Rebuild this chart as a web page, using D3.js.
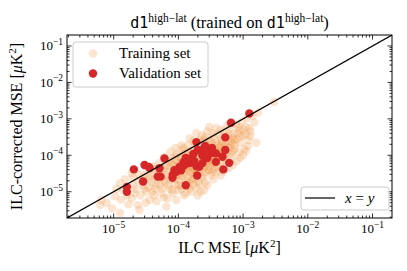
<!DOCTYPE html>
<html lang="en">
<head>
<meta charset="UTF-8">
<title>d1 high-lat ILC MSE</title>
<script src="https://d3js.org/d3.v7.min.js"></script>
<style>
  body { margin: 0; background: #fff; }
  svg { display: block; }
  text { font-family: "Liberation Serif", "DejaVu Serif", serif; fill: #000; }
  .mono { font-family: "DejaVu Sans Mono", "Liberation Mono", monospace; }
</style>
</head>
<body>
<div id="chart"></div>
<script>
// ILC MSE (x) vs ILC-corrected MSE (y), in muK^2
const trainSet = [
  [6.2e-6,4.3e-6],[7.8e-6,4.9e-6],[6.5e-6,6e-6],[9.5e-6,3.5e-6],[1.05e-5,7.5e-6],[1.25e-5,2.6e-6],
  [1.25e-5,1.7e-5],[1.4e-5,1.1e-5],[1.6e-5,8e-6],[1.9e-5,6.6e-6],[1.7e-5,4.5e-6],[1.9e-5,3.2e-5],
  [2.35e-5,4.3e-6],[2.5e-5,3.2e-6],[2.2e-5,1.2e-5],[2.6e-5,8e-6],[2.8e-5,1.5e-5],[3e-5,2.2e-5],
  [3.2e-5,1e-5],[3.5e-5,1.3e-5],[3.8e-5,2.8e-5],[2.4e-5,2e-5],[3.3e-5,3.6e-5],[3.6e-5,6e-6],
  [2.9e-5,2.6e-5],[3.9e-5,1.8e-5],[2.1e-5,9e-6],[3.1e-5,5e-6],[4.2e-5,8e-6],[4.5e-5,4.2e-5],
  [4.4e-5,1.2e-5],[4.8e-5,2.2e-5],[5e-5,3.2e-5],[5.2e-5,1.5e-5],[4.6e-5,5.5e-6],[5.5e-5,9e-6],
  [5.8e-5,2.6e-5],[6e-5,4.5e-5],[6.5e-5,3.9e-6],[6.2e-5,1.8e-5],[6.8e-5,6.5e-6],[7e-5,3.5e-5],
  [7.2e-5,1.2e-5],[7.5e-5,2.2e-5],[7.8e-5,6e-5],[8e-5,2.8e-5],[8.2e-5,9e-6],[8.5e-5,4e-5],
  [8.8e-5,1.6e-5],[9e-5,7.5e-5],[9.3e-5,5.9e-6],[9.5e-5,3e-5],[9.8e-5,5e-5],[1e-4,1.1e-5],
  [1.02e-4,2.1e-5],[1.05e-4,9e-5],[1.08e-4,3.6e-5],[1.1e-4,6.5e-5],[1.12e-4,1.5e-5],[1.15e-4,2.6e-5],
  [1.18e-4,4.5e-5],[1.2e-4,1.1e-4],[1.22e-4,8e-6],[1.25e-4,3.2e-5],[1.28e-4,5.5e-5],[1.3e-4,1.9e-5],
  [1.33e-4,8.5e-5],[1.36e-4,4e-5],[1.4e-4,2.5e-5],[1.42e-4,1.3e-4],[1.45e-4,6.5e-5],[1.48e-4,1.2e-5],
  [1.5e-4,3.5e-5],[1.55e-4,5e-5],[1.58e-4,1e-4],[1.6e-4,2.2e-5],[1.65e-4,7.5e-5],[1.68e-4,4.2e-5],
  [1.7e-4,1.6e-5],[1.75e-4,1.5e-4],[1.78e-4,3e-5],[1.8e-4,6e-5],[1.85e-4,9e-5],[1.9e-4,2.6e-5],
  [1.95e-4,4.6e-5],[2e-4,1.2e-4],[2.05e-4,1.9e-5],[2.1e-4,7e-5],[2.15e-4,3.6e-5],[2.2e-4,1.8e-4],
  [2.25e-4,5.5e-5],[2.3e-4,9.5e-5],[2.35e-4,2.8e-5],[2.4e-4,1.4e-4],[2.45e-4,4.5e-5],[2.5e-4,7.5e-5],
  [2.55e-4,2.2e-4],[2.6e-4,3.4e-5],[2.65e-4,1.1e-4],[2.7e-4,6e-5],[2.8e-4,1.6e-4],[2.85e-4,4e-5],
  [2.9e-4,8.5e-5],[3e-4,2.6e-4],[3.05e-4,5e-5],[3.1e-4,1.25e-4],[3.2e-4,7e-5],[3.3e-4,2e-4],
  [3.35e-4,3.5e-5],[3.4e-4,1e-4],[3.5e-4,3.2e-4],[3.6e-4,5.8e-5],[3.7e-4,1.5e-4],[3.8e-4,8e-5],
  [3.9e-4,2.4e-4],[4e-4,4.6e-5],[4.1e-4,1.2e-4],[4.2e-4,3.8e-4],[4.3e-4,9.5e-5],[4.4e-4,1.8e-4],
  [4.5e-4,6.5e-5],[4.6e-4,2.8e-4],[4.8e-4,1.4e-4],[5e-4,4.6e-4],[5.1e-4,8.5e-5],[5.3e-4,2.1e-4],
  [5.5e-4,1.1e-4],[5.7e-4,3.4e-4],[5.9e-4,1.6e-4],[6.2e-4,5.5e-4],[6.4e-4,2.5e-4],[6.6e-4,9e-5],
  [6.9e-4,1.3e-4],[7.2e-4,4e-4],[7.5e-4,1.9e-4],[7.8e-4,7e-4],[8e-4,2.8e-4],[8.5e-4,1.2e-4],
  [8.8e-4,5e-4],[9.2e-4,2.2e-4],[9.6e-4,8.5e-4],[1e-3,3.5e-4],[1.05e-3,1.5e-4],[1.1e-3,6e-4],
  [1.15e-3,1.05e-3],[1.2e-3,2.6e-4],[1.3e-3,4.5e-4],[1.4e-3,1.2e-3],[1.5e-3,8e-4],[1.7e-3,1.5e-3],
  [3e-3,2.9e-3],
  [1.5e-4,2.9e-4],[1.9e-4,4.1e-4],[3e-4,6e-4],[3.8e-4,5.6e-4],[5.7e-4,6.7e-4],[7.5e-5,1.25e-4],
  [9e-5,1.6e-4],[1.1e-4,1.9e-4],[1.1e-4,8e-5],[1.3e-4,1.1e-4],[1.6e-4,1.3e-4],[1.8e-4,1.1e-4],
  [2.2e-4,8.5e-5],[2.4e-4,6.5e-5],[2.7e-4,9e-5],[3e-4,1.6e-4],[3.2e-4,2.3e-4],[3.5e-4,1.3e-4],
  [4e-4,2e-4],[4.3e-4,1.6e-4],[4.7e-4,2.3e-4],[5.2e-4,1.8e-4],[6e-4,3.8e-4],[7e-4,3e-4],
  [8.2e-4,4e-4],[2.1e-4,2.6e-4],[2.6e-4,3.2e-4],[9e-5,9.5e-5],[7e-5,7e-5],[6e-5,9e-5],
  [5e-5,6e-5],[4e-5,5e-5],[1.4e-4,4.8e-5],[1.6e-4,3.3e-5],[2e-4,3e-5],[2.4e-4,2.4e-5],
  [3e-4,3.8e-5],[3.6e-4,4.2e-5],[4.5e-4,5e-5],[5.5e-4,7e-5],[6.5e-4,1.1e-4],[7.5e-4,1.5e-4],
  [1.3e-4,7e-5],[1.7e-4,5.3e-5],[2e-4,6.3e-5],[2.3e-4,1.15e-4],[2.9e-4,6.7e-5],[3.3e-4,9e-5],
  [3.8e-4,1e-4],[4.6e-4,1.1e-4],[1.05e-4,2.8e-5],[8.5e-5,5.2e-5],[1.15e-4,1.4e-4],[1.8e-4,2e-4],
  [2.5e-4,2.7e-4],[6.5e-5,2.9e-5],[5.5e-5,1.2e-5],[1.3e-4,9e-6],[2e-4,8e-6],[2.8e-4,1.5e-5],
  [3.5e-4,2.2e-5],[4.5e-4,2.8e-5],[6e-4,4.5e-5],[8e-4,7e-5],[1e-3,1e-4],[1.2e-3,1.8e-4],
  [1.6e-3,2.2e-4],[1.3e-3,3.3e-4],[1.9e-4,1.3e-5],[1.5e-4,1.8e-5],[1e-4,1.5e-5],[7e-5,1.5e-5],
  [2.5e-4,1.1e-5],
  [1.2e-4,4e-5],[1.35e-4,6e-5],[1.5e-4,7e-5],[1.65e-4,9.5e-5],[1.8e-4,4e-5],[2e-4,5e-5],
  [2.2e-4,6.5e-5],[2.4e-4,8.5e-5],[2.6e-4,5e-5],[2.8e-4,1.1e-4],[3.1e-4,8e-5],[3.4e-4,6e-5],
  [3.7e-4,1.2e-4],[4e-4,9e-5],[4.4e-4,1.35e-4],[4.9e-4,1e-4],[5.3e-4,1.3e-4],[5.8e-4,2.2e-4],
  [6.3e-4,1.6e-4],[6.8e-4,2.2e-4],[7.3e-4,2.6e-4],[9e-4,3.2e-4],[1.1e-3,3.8e-4],[1.25e-3,5.5e-4],
  [1e-3,5e-4],[8.5e-4,6e-4],
  [1.1e-4,1.2e-5],[1.4e-4,1.4e-5],[1.7e-4,2.2e-5],[2.1e-4,1.6e-5],[2.6e-4,1.8e-5],[3.2e-4,2.8e-5],
  [3.9e-4,3.4e-5],[5e-4,3.6e-5],[7e-4,5.5e-5],[9e-4,8.5e-5],[1.1e-3,1.3e-4],[2.2e-4,1e-5],
  [1.6e-4,1e-5],[8e-5,1.1e-5],[6e-5,7e-6],[4e-5,1e-5],
  [2e-5,2.5e-5],[2.5e-5,3e-5],[3.5e-5,2.2e-5],[4.2e-5,3e-5],[5.5e-5,4e-5],[6.5e-5,5.5e-5],
  [8e-5,8e-5],[9.5e-5,1.1e-4],[1.2e-4,1.6e-4],[1.4e-4,1.9e-4],[1.7e-4,2.5e-4],[2.3e-4,3.5e-4],
  [2.8e-4,4.5e-4],[3.4e-4,4e-4],[4.5e-4,5e-4],[1.3e-5,6e-6],[1.1e-5,1.2e-5],[1.5e-5,2.2e-5],
  [7.5e-5,4.6e-5],[1e-4,6e-5],[9e-5,2.2e-5],[6e-5,2e-5],[4.5e-5,1.6e-5],[3e-5,1.2e-5],[2e-5,1.5e-5]
];

const validSet = [
  [1.25e-3,1.4e-3],[6.5e-4,7.8e-4],[5.3e-4,3.1e-4],[1.9e-4,2.3e-4],[2.5e-4,1.6e-4],[2.8e-4,1.4e-4],
  [3.0e-4,1.2e-4],[2.35e-4,1.0e-4],[2.8e-4,8.4e-5],[3.2e-4,1.15e-4],[5.3e-4,1.4e-4],[3.8e-4,1.13e-4],
  [6.1e-5,8.2e-5],[1.7e-4,1.08e-4],[4.8e-4,9.1e-5],[6.1e-4,6.2e-5],[3.8e-4,6.6e-5],[1.38e-4,7.4e-5],
  [1.49e-4,6.1e-5],[1.25e-4,5.4e-5],[1.04e-4,4.75e-5],[1.1e-4,3.9e-5],[9.3e-5,3.5e-5],[8.7e-5,3.9e-5],
  [8.2e-5,2.9e-5],[2.35e-4,6.1e-5],[2.1e-4,4.8e-5],[1.9e-4,5.0e-5],[4.95e-4,4.1e-5],[3.0e-5,5.4e-5],
  [3.5e-5,4.8e-5],[3.6e-5,4.45e-5],[2.05e-5,4.1e-5],[5.1e-5,4.4e-5],[4.8e-5,2.6e-5],[5.3e-5,2.6e-5],
  [8.1e-5,2.4e-5],[1.95e-4,2.8e-5],[2.85e-5,1.9e-5],[1.3e-4,1.5e-5],[1.6e-5,1.35e-5],[1.6e-5,1.0e-5],
  [1.3e-4,8.4e-5],[1.6e-4,8.4e-5],[2.0e-4,1.4e-4],[2.6e-4,1.8e-4],[3.3e-4,1.6e-4],[1.2e-4,6.5e-5],
  [1.75e-4,7e-5],[2.6e-4,1.25e-4]
];

const axisDomain = [1.9e-6, 0.2];
const majorTicks = [1e-5, 1e-4, 1e-3, 1e-2, 1e-1];
const tickExps = ["\u22125", "\u22124", "\u22123", "\u22122", "\u22121"];

const W = 407, H = 271;
const margin = { top: 35, right: 15, bottom: 53, left: 67 };
const width = W - margin.left - margin.right;
const height = H - margin.top - margin.bottom;

const svg = d3.select("#chart").append("svg")
    .attr("width", W).attr("height", H);

const x = d3.scaleLog().domain(axisDomain).range([margin.left, margin.left + width]);
const y = d3.scaleLog().domain(axisDomain).range([margin.top + height, margin.top]);

svg.append("clipPath").attr("id", "plotclip")
  .append("rect")
    .attr("x", margin.left).attr("y", margin.top)
    .attr("width", width).attr("height", height);

const plot = svg.append("g").attr("clip-path", "url(#plotclip)");

// training points
plot.selectAll(".train")
  .data(trainSet)
  .enter().append("circle")
    .attr("class", "train")
    .attr("cx", d => x(d[0]))
    .attr("cy", d => y(d[1]))
    .attr("r", 4.2)
    .attr("fill", "#f0923f")
    .attr("fill-opacity", 0.24);

// validation points
plot.selectAll(".valid")
  .data(validSet)
  .enter().append("circle")
    .attr("class", "valid")
    .attr("cx", d => x(d[0]))
    .attr("cy", d => y(d[1]))
    .attr("r", 4.2)
    .attr("fill", "#d62728");

// x = y line
plot.append("line")
    .attr("x1", x(axisDomain[0])).attr("y1", y(axisDomain[0]))
    .attr("x2", x(axisDomain[1])).attr("y2", y(axisDomain[1]))
    .attr("stroke", "#000").attr("stroke-width", 1.2);

// ticks (inward, all four sides)
const minorTicks = [];
for (let k = -6; k <= -1; k++) {
  for (let m = 2; m <= 9; m++) {
    const v = m * Math.pow(10, k);
    if (v > axisDomain[0] && v < axisDomain[1]) minorTicks.push(v);
  }
}
const x0 = margin.left, x1 = margin.left + width;
const y0 = margin.top + height, y1 = margin.top;
const ticks = svg.append("g").attr("stroke", "#000").attr("stroke-width", 0.8);
function drawTicks(vals, len) {
  vals.forEach(v => {
    const px = x(v), py = y(v);
    ticks.append("line").attr("x1", px).attr("x2", px).attr("y1", y0).attr("y2", y0 - len);
    ticks.append("line").attr("x1", px).attr("x2", px).attr("y1", y1).attr("y2", y1 + len);
    ticks.append("line").attr("y1", py).attr("y2", py).attr("x1", x0).attr("x2", x0 + len);
    ticks.append("line").attr("y1", py).attr("y2", py).attr("x1", x1).attr("x2", x1 - len);
  });
}
drawTicks(majorTicks, 4.5);
drawTicks(minorTicks, 2.5);

// frame
svg.append("rect")
    .attr("x", x0).attr("y", y1).attr("width", width).attr("height", height)
    .attr("fill", "none").attr("stroke", "#000").attr("stroke-width", 1);

// tick labels
majorTicks.forEach((v, i) => {
  const tx = svg.append("text")
      .attr("x", x(v)).attr("y", y0 + 15)
      .attr("text-anchor", "middle").attr("font-size", 13);
  tx.append("tspan").text("10");
  tx.append("tspan").attr("dy", -5.5).attr("font-size", 9.5).text(tickExps[i]);

  const ty = svg.append("text")
      .attr("x", x0 - 4).attr("y", y(v) + 4.5)
      .attr("text-anchor", "end").attr("font-size", 13);
  ty.append("tspan").text("10");
  ty.append("tspan").attr("dy", -5.5).attr("font-size", 9.5).text(tickExps[i]);
});

// axis labels
const xl = svg.append("text")
    .attr("x", (x0 + x1) / 2).attr("y", 253)
    .attr("text-anchor", "middle").attr("font-size", 16);
xl.append("tspan").text("ILC MSE [");
xl.append("tspan").attr("font-style", "italic").text("\u03bc");
xl.append("tspan").text("K");
xl.append("tspan").attr("dy", -6).attr("font-size", 11).text("2");
xl.append("tspan").attr("dy", 6).text("]");

const yl = svg.append("text")
    .attr("transform", `translate(22,${(y0 + y1) / 2}) rotate(-90)`)
    .attr("text-anchor", "middle").attr("font-size", 16);
yl.append("tspan").text("ILC-corrected MSE [");
yl.append("tspan").attr("font-style", "italic").text("\u03bc");
yl.append("tspan").text("K");
yl.append("tspan").attr("dy", -6).attr("font-size", 11).text("2");
yl.append("tspan").attr("dy", 6).text("]");

// title
const title = svg.append("text")
    .attr("x", (x0 + x1) / 2).attr("y", 28)
    .attr("text-anchor", "middle").attr("font-size", 16.5);
title.append("tspan").attr("class", "mono").attr("font-size", 15).text("d1");
title.append("tspan").attr("dy", -6.5).attr("font-size", 11.5).text("high\u2212lat");
title.append("tspan").attr("dy", 6.5).text(" (trained on ");
title.append("tspan").attr("class", "mono").attr("font-size", 15).text("d1");
title.append("tspan").attr("dy", -6.5).attr("font-size", 11.5).text("high\u2212lat");
title.append("tspan").attr("dy", 6.5).text(")");

// legend: datasets
const leg1 = svg.append("g");
leg1.append("rect")
    .attr("x", 73).attr("y", 42).attr("width", 135).attr("height", 45).attr("rx", 3)
    .attr("fill", "#fff").attr("fill-opacity", 0.8)
    .attr("stroke", "#cccccc").attr("stroke-width", 1);
leg1.append("circle").attr("cx", 93).attr("cy", 53.5).attr("r", 4.2)
    .attr("fill", "#f0923f").attr("fill-opacity", 0.24);
leg1.append("circle").attr("cx", 93).attr("cy", 73.5).attr("r", 4.2)
    .attr("fill", "#d62728");
leg1.append("text").attr("x", 119).attr("y", 58).attr("font-size", 15).text("Training set");
leg1.append("text").attr("x", 119).attr("y", 78).attr("font-size", 15).text("Validation set");

// legend: x = y
const leg2 = svg.append("g");
leg2.append("rect")
    .attr("x", 301).attr("y", 187).attr("width", 88).attr("height", 23).attr("rx", 3)
    .attr("fill", "#fff").attr("fill-opacity", 0.8)
    .attr("stroke", "#cccccc").attr("stroke-width", 1);
leg2.append("line").attr("x1", 305).attr("x2", 335).attr("y1", 198).attr("y2", 198)
    .attr("stroke", "#000").attr("stroke-width", 1.2);
const lt = leg2.append("text").attr("x", 345).attr("y", 203).attr("font-size", 15);
lt.append("tspan").attr("font-style", "italic").text("x");
lt.append("tspan").text(" = ");
lt.append("tspan").attr("font-style", "italic").text("y");
</script>
</body>
</html>
